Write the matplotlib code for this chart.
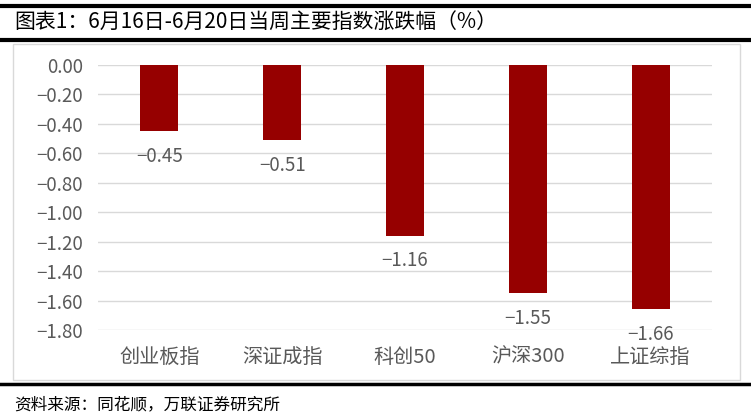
import matplotlib.pyplot as plt
from matplotlib.patches import Rectangle
from matplotlib.lines import Line2D

plt.rcParams['font.family'] = ['Noto Sans CJK SC', 'DejaVu Sans']

TITLE = "图表1：6月16日-6月20日当周主要指数涨跌幅（%）"
SOURCE = "资料来源：同花顺，万联证券研究所"
categories = ["创业板指", "深证成指", "科创50", "沪深300", "上证综指"]
values = [-0.45, -0.51, -1.16, -1.55, -1.66]
yticks = [0.0, -0.2, -0.4, -0.6, -0.8, -1.0, -1.2, -1.4, -1.6, -1.8]

BAR_COLOR = "#960000"
TEXT_GREY = "#595959"
W, H = 751, 418

fig = plt.figure(figsize=(W / 100, H / 100), dpi=100)


def fx(px):
    return px / W


def fy(py):
    return 1 - py / H


def fmt(v):
    return "0.00" if v == 0 else f"{v:.2f}".replace("-", "−")


# frame lines and chart box
for py, lw in [(6, 3.0), (40, 3.0), (384, 2.5)]:
    fig.add_artist(Line2D([0, 1], [fy(py), fy(py)], color="black", lw=lw))
fig.add_artist(Rectangle((fx(13), fy(380)), fx(727), (380 - 44) / H,
                         fill=False, edgecolor="#d9d9d9", lw=1.0))

fig.text(fx(14), fy(23), TITLE, fontsize=15, va="center", ha="left", color="black")
fig.text(fx(14), fy(405), SOURCE, fontsize=12, va="center", ha="left",
         color="black", style="italic")

ax = fig.add_axes([fx(98), fy(330), fx(712 - 98), (330 - 65) / H])
x = range(len(categories))
ax.bar(x, values, width=0.31, color=BAR_COLOR, zorder=3)
for xi, v in zip(x, values):
    ax.text(xi, v - 0.1, fmt(v), ha="center", va="top",
            fontsize=13.5, color=TEXT_GREY)

ax.set_ylim(-1.8, 0)
ax.set_xlim(-0.5, len(categories) - 0.5)
ax.set_yticks(yticks)
ax.set_yticklabels([fmt(t) for t in yticks], fontsize=13.5, color=TEXT_GREY)
ax.set_xticks(list(x))
ax.set_xticklabels(categories, fontsize=14.5, color=TEXT_GREY)
ax.tick_params(axis="both", length=0)
ax.tick_params(axis="x", pad=12)
ax.tick_params(axis="y", pad=11)
ax.grid(axis="y", color="#d9d9d9", lw=1.0, zorder=0)
for s in ax.spines.values():
    s.set_visible(False)

fig.savefig("out.png", dpi=100)
